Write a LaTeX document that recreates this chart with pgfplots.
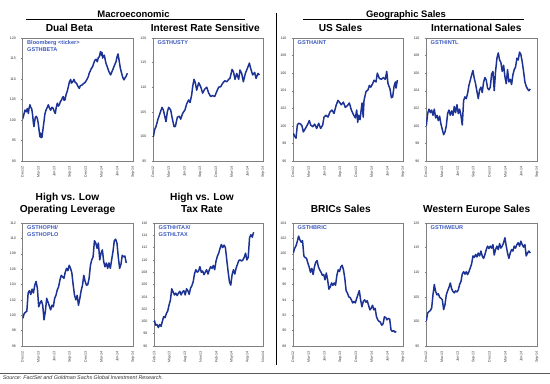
\documentclass[border=0pt]{standalone}
\usepackage{fontspec}
\setmainfont{Liberation Sans}
\usepackage{pgfplots}
\usepackage{pgfplotstable}
\pgfplotsset{compat=1.18}
\definecolor{lineblue}{RGB}{28,50,148}
\definecolor{lblblue}{RGB}{60,90,190}

\pgfplotstableread{
x y
0.00 100.2
0.20 101.0
0.47 102.4
0.70 102.0
0.92 102.8
1.11 101.6
1.25 102.9
1.42 103.7
1.60 103.0
1.74 102.8
1.93 101.2
2.05 99.5
2.18 98.4
2.30 99.6
2.44 100.6
2.60 100.9
2.82 100.4
2.95 99.5
3.07 98.4
3.20 97.0
3.32 95.9
3.45 96.8
3.55 95.7
3.70 95.8
3.82 97.0
3.96 98.4
4.10 99.8
4.25 101.4
4.46 102.4
4.65 102.9
4.91 103.7
5.10 103.0
5.35 102.4
5.60 103.1
5.86 102.8
6.05 102.0
6.24 101.6
6.40 103.0
6.62 104.1
6.80 103.4
7.00 103.7
7.20 104.5
7.44 104.9
7.60 105.5
7.76 105.7
7.90 104.8
8.07 104.9
8.30 106.3
8.50 107.0
8.71 108.1
8.90 109.2
9.15 109.9
9.30 109.0
9.53 109.3
9.78 109.9
10.00 109.2
10.29 108.9
10.50 108.3
10.79 107.7
11.00 108.4
11.30 108.5
11.60 108.9
11.87 109.1
12.20 109.8
12.51 110.6
12.70 111.5
12.83 111.8
13.05 112.5
13.33 113.0
13.55 113.9
13.77 114.6
14.00 114.8
14.22 114.2
14.40 115.2
14.60 115.4
14.75 116.3
14.85 116.7
15.00 115.8
15.10 116.5
15.23 115.1
15.40 115.6
15.55 115.8
15.70 114.8
15.87 113.8
16.10 113.0
16.31 112.2
16.50 111.6
16.75 111.0
17.00 111.8
17.26 112.6
17.50 113.4
17.77 114.2
17.95 115.3
18.15 116.1
18.30 115.0
18.40 114.2
18.60 112.6
18.84 111.4
19.05 110.4
19.29 109.8
19.45 110.2
19.67 110.6
19.80 111.0
19.92 111.4
}\dualbeta

\pgfplotstableread{
x y
0.06 99.9
0.32 101.4
0.57 102.0
0.95 103.5
1.34 104.7
1.72 105.9
1.97 105.4
2.29 103.9
2.48 103.0
2.74 105.0
2.99 105.9
3.37 105.4
3.63 103.9
4.01 102.0
4.26 102.0
4.65 103.9
5.03 104.1
5.28 103.5
5.67 104.7
6.11 105.4
6.43 106.6
6.81 107.4
7.07 106.9
7.38 108.4
7.57 110.1
7.83 111.6
8.08 110.9
8.34 109.4
8.72 110.9
9.10 110.1
9.48 108.8
9.87 109.6
10.25 110.0
10.63 108.8
11.01 108.1
11.39 108.3
11.78 108.1
12.16 109.1
12.54 110.0
12.92 110.1
13.30 110.8
13.69 111.3
14.07 111.1
14.45 111.6
14.70 111.8
15.09 113.6
15.34 113.2
15.66 111.6
15.98 112.8
16.36 111.6
16.61 113.5
16.93 112.8
17.25 111.1
17.63 112.8
18.01 113.8
18.40 114.9
18.65 113.8
19.03 112.5
19.41 113.0
19.67 111.8
20.05 112.8
20.31 112.5
}\intrate

\pgfplotstableread{
x y
0.06 99.15
0.32 98.8
0.57 98.6
0.83 100.1
1.08 100.3
1.46 100.2
1.72 100.0
1.97 99.3
2.36 99.7
2.74 100.1
3.12 100.6
3.37 100.1
3.76 99.9
4.14 100.2
4.52 99.7
4.90 100.3
5.28 99.7
5.67 100.1
5.92 101.0
6.30 101.2
6.68 101.0
7.07 101.6
7.45 101.8
7.83 101.4
8.21 102.3
8.59 102.9
8.85 102.7
9.23 102.4
9.61 102.7
9.99 102.1
10.38 102.3
10.76 102.6
11.14 101.8
11.52 101.3
11.90 100.9
12.16 101.8
12.35 100.4
12.54 101.2
12.79 100.7
13.18 102.6
13.40 101.0
13.56 102.9
13.94 103.9
14.32 104.1
14.58 104.6
14.83 104.4
15.21 104.8
15.47 105.2
15.85 105.0
16.10 106.0
16.49 105.4
16.87 105.3
17.25 105.5
17.63 105.3
17.89 106.2
18.14 104.8
18.52 104.2
18.78 103.2
19.03 103.3
19.29 104.5
19.54 105.0
19.67 104.3
19.92 105.2
}\ussales

\pgfplotstableread{
x intl oplev brics weur
0.06 100.0 99.6 100.1 100.1
0.31 101.4 100.2 100.7 101.7
0.56 101.9 100.4 101.0 102.0
0.82 101.5 100.5 101.6 102.2
1.07 101.8 102.9 102.3 102.7
1.32 101.2 103.2 101.8 105.4
1.57 101.9 102.7 101.5 107.5
1.82 100.9 103.4 101.7 106.1
2.08 101.2 102.9 99.7 105.4
2.33 100.6 103.9 99.5 105.6
2.58 101.1 104.4 99.4 104.9
2.83 100.2 103.5 98.8 104.7
3.08 99.6 101.1 98.3 104.4
3.34 99.0 101.6 97.6 102.4
3.59 99.3 101.9 98.1 103.4
3.84 100.0 101.3 97.3 105.4
4.09 101.4 99.4 98.3 106.2
4.34 101.8 100.5 98.9 106.9
4.60 101.2 102.2 99.1 107.8
4.85 101.7 101.7 98.3 106.6
5.10 101.2 101.2 97.9 106.1
5.35 102.2 100.7 97.6 105.8
5.60 101.5 101.3 97.2 106.2
5.86 102.4 101.1 97.3 106.0
6.11 101.4 102.2 96.6 106.4
6.36 101.9 102.6 97.5 107.5
6.61 101.2 103.3 96.6 108.1
6.86 100.1 103.7 95.4 109.6
7.12 102.9 104.6 95.7 110.1
7.37 103.3 105.2 96.2 109.6
7.62 103.1 105.0 95.9 110.1
7.87 103.7 104.8 96.2 109.5
8.12 104.6 105.6 95.9 110.1
8.38 105.2 106.1 97.2 110.9
8.63 105.8 105.8 97.9 111.7
8.88 106.3 106.5 97.7 113.3
9.13 105.4 106.1 98.3 113.0
9.38 104.8 105.5 98.5 113.6
9.64 103.9 103.9 97.9 113.1
9.89 103.1 102.6 96.8 113.9
10.14 104.1 102.0 95.2 113.3
10.39 104.4 102.6 94.9 114.3
10.64 103.8 101.3 94.4 113.3
10.90 105.0 102.2 94.3 112.8
11.15 105.5 103.2 94.0 113.6
11.40 105.2 103.9 93.6 114.6
11.65 104.3 105.2 93.8 115.3
11.90 104.1 104.4 93.6 114.8
12.16 104.4 103.9 94.2 115.3
12.41 105.9 104.0 94.7 114.9
12.66 106.2 104.8 95.2 115.6
12.91 104.0 106.5 94.0 113.5
13.16 106.2 107.2 93.1 114.6
13.42 107.7 107.6 93.8 115.3
13.67 108.3 109.7 94.0 114.6
13.92 107.5 109.4 93.7 115.8
14.17 107.2 108.7 93.9 114.9
14.42 106.2 109.4 93.3 115.3
14.68 106.9 107.2 92.7 116.0
14.93 105.6 108.1 92.9 117.0
15.18 104.8 108.5 93.3 115.3
15.43 106.4 107.0 92.7 113.9
15.68 105.0 106.3 92.9 112.8
15.94 105.3 106.8 91.8 113.9
16.19 104.7 106.1 91.4 114.6
16.44 105.8 106.8 91.2 114.3
16.69 106.4 106.1 91.1 115.3
16.94 106.7 107.2 90.7 114.9
17.20 107.7 108.3 90.9 115.6
17.45 107.5 109.7 91.8 116.0
17.70 108.4 109.9 91.7 115.3
17.95 108.1 109.4 91.4 116.3
18.20 107.3 107.6 91.6 115.6
18.46 106.2 106.1 91.5 115.1
18.71 105.0 106.6 90.1 115.6
18.96 104.5 107.8 89.9 113.3
19.21 104.2 107.6 90.0 113.9
19.46 104.0 107.7 89.8 114.3
19.72 104.2 106.8 89.9 113.9
}\groupA

\pgfplotstableread{
x y
2.06 100.2
2.32 99.4
2.58 99.5
2.84 99.0
3.10 99.5
3.36 99.2
3.61 100.0
3.87 100.8
4.13 100.6
4.39 101.3
4.65 101.7
4.91 102.7
5.17 103.5
5.42 105.3
5.68 104.8
5.94 104.3
6.20 104.6
6.46 104.2
6.72 104.6
6.97 104.9
7.23 104.3
7.49 104.8
7.75 105.0
8.01 104.3
8.27 105.3
8.52 105.0
8.78 104.4
9.04 105.4
9.30 105.8
9.56 106.5
9.82 107.8
10.07 108.4
10.33 108.0
10.59 108.2
10.85 108.9
11.11 108.0
11.37 108.2
11.63 107.6
11.88 108.0
12.14 108.4
12.40 107.7
12.66 108.4
12.92 108.9
13.18 108.6
13.43 109.1
13.69 108.4
13.95 109.8
14.21 110.6
14.47 111.1
14.73 111.9
14.98 112.5
15.24 112.0
15.50 112.4
15.76 112.0
16.02 110.0
16.28 108.1
16.54 106.4
16.79 105.9
17.05 107.6
17.31 108.4
17.57 107.7
17.83 108.7
18.09 109.3
18.34 109.9
18.60 110.0
18.86 109.8
19.12 110.0
19.38 110.4
19.64 111.1
19.89 110.0
20.15 110.4
20.41 113.6
20.67 114.1
20.93 113.7
21.19 114.5
}\taxrate

\pgfplotsset{
  panel/.style={
    scale only axis, height=123bp, anchor=south west,
    axis line style={draw=black!50, line width=0.6bp},
    tick style={draw=black!50, line width=0.4bp},
    tick align=outside, major tick length=1.5bp,
    tick pos=left,
    tick label style={font=\fontsize{3.6}{3.9}\selectfont, text=black!80},
    yticklabel style={xshift=-1.5bp},
    xticklabel style={rotate=90, anchor=east},
    /pgf/number format/assume math mode=true,
    xmin=0, xmax=21, xtick={0,3,...,21},
    xticklabels={Dec-12,Mar-13,Jun-13,Sep-13,Dec-13,Mar-14,Jun-14,Sep-14},
    every axis plot post/.append style={line width=1.5bp, color=lineblue, mark=none, line join=round},
  },
}
\tikzset{
  lbl/.style={anchor=north west, inner sep=0pt, xshift=4.5bp, yshift=-2bp,
    font=\fontsize{5.6}{7.3}\selectfont\bfseries, text=lblblue, align=left},
  ttl/.style={anchor=base, inner sep=0pt, font=\fontsize{10.2}{12.3}\selectfont\bfseries},
}

\begin{document}
\begin{tikzpicture}
\useasboundingbox (0,0) rectangle (550bp,384bp);

% headers
\node[anchor=base, inner sep=0pt, font=\fontsize{9.5}{11}\selectfont\bfseries] at (133.5bp,366.7bp) {Macroeconomic};
\node[anchor=base, inner sep=0pt, font=\fontsize{9.5}{11}\selectfont\bfseries] at (406bp,366.7bp) {Geographic Sales};
\draw[line width=0.9bp] (26bp,364.8bp) -- (245bp,364.8bp);
\draw[line width=0.9bp] (303bp,364.8bp) -- (524bp,364.8bp);
\draw[line width=1bp] (276bp,19bp) -- (276bp,371bp);

% titles
\node[ttl] at (69.3bp,352.3bp) {Dual Beta};
\node[ttl] at (205.3bp,352.3bp) {Interest Rate Sensitive};
\node[ttl] at (340.5bp,352.3bp) {US Sales};
\node[ttl] at (476.3bp,352.3bp) {International Sales};
\node[ttl] at (67.5bp,183.3bp) {High vs. Low};
\node[ttl] at (67.5bp,171bp) {Operating Leverage};
\node[ttl] at (202bp,183.3bp) {High vs. Low};
\node[ttl] at (202bp,171bp) {Tax Rate};
\node[ttl] at (340.8bp,171bp) {BRICs Sales};
\node[ttl] at (476.7bp,171bp) {Western Europe Sales};

% bottom line and source
\draw[line width=0.8bp, black!65] (0bp,10.7bp) -- (550bp,10.7bp);
\node[anchor=base west, inner sep=0pt, font=\fontsize{5.4}{6}\selectfont\itshape, text=black!80] at (2.7bp,4.1bp) {Source: FactSet and Goldman Sachs Global Investment Research.};

% P1 Dual Beta
\begin{axis}[panel, at={(22.5bp,223bp)}, width=110.5bp, ymin=90, ymax=120, ytick={90,95,...,120}]
\addplot table[x=x,y=y] {\dualbeta};
\node[lbl] at (rel axis cs:0,1) {Bloomberg <ticker>\\GSTHBETA};
\end{axis}

% P2 Interest Rate Sensitive
\begin{axis}[panel, at={(153bp,223bp)}, width=110bp, ymin=95, ymax=120, ytick={95,100,...,120}]
\addplot table[x=x,y=y] {\intrate};
\node[lbl] at (rel axis cs:0,1) {GSTHUSTY};
\end{axis}

% P3 US Sales
\begin{axis}[panel, at={(293bp,223bp)}, width=110bp, ymin=96, ymax=110, ytick={96,98,...,110}]
\addplot table[x=x,y=y] {\ussales};
\node[lbl] at (rel axis cs:0,1) {GSTHAINT};
\end{axis}

% P4 International Sales
\begin{axis}[panel, at={(426bp,223bp)}, width=111bp, ymin=96, ymax=110, ytick={96,98,...,110}]
\addplot table[x=x,y=intl] {\groupA};
\node[lbl] at (rel axis cs:0,1) {GSTHINTL};
\end{axis}

% P5 Operating Leverage
\begin{axis}[panel, at={(22.5bp,38bp)}, width=110.5bp, ymin=96, ymax=112, ytick={96,98,...,112}]
\addplot table[x=x,y=oplev] {\groupA};
\node[lbl] at (rel axis cs:0,1) {GSTHOPHI/\\GSTHOPLO};
\end{axis}

% P6 Tax Rate
\begin{axis}[panel, at={(154bp,38bp)}, width=109bp, ymin=96, ymax=116, ytick={96,98,...,116},
  xmin=2, xmax=23, xtick={2,5,...,23},
  xticklabels={Feb-13,May-13,Aug-13,Nov-13,Feb-14,May-14,Aug-14,Nov-14}]
\addplot table[x=x,y=y] {\taxrate};
\node[lbl] at (rel axis cs:0,1) {GSTHHTAX/\\GSTHLTAX};
\end{axis}

% P7 BRICs
\begin{axis}[panel, at={(293bp,38bp)}, width=110bp, ymin=88, ymax=104, ytick={88,90,...,104}]
\addplot table[x=x,y=brics] {\groupA};
\node[lbl] at (rel axis cs:0,1) {GSTHBRIC};
\end{axis}

% P8 Western Europe
\begin{axis}[panel, at={(426bp,38bp)}, width=111bp, ymin=95, ymax=120, ytick={95,100,...,120}]
\addplot table[x=x,y=weur] {\groupA};
\node[lbl] at (rel axis cs:0,1) {GSTHWEUR};
\end{axis}

\end{tikzpicture}
\end{document}
